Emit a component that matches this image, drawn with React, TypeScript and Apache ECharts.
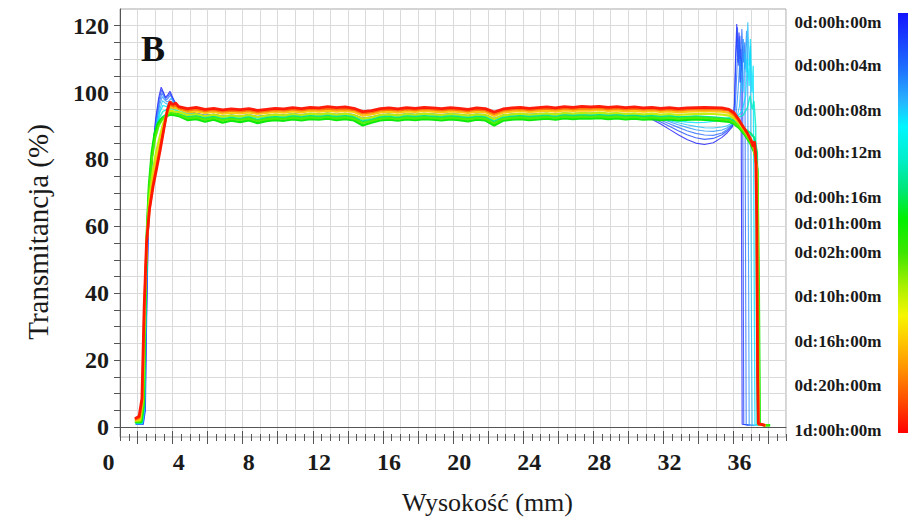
import React, { useEffect, useRef } from "react";
import * as echarts from "echarts";

// ---------- data ----------
const plateauX = [
  4, 4.5, 5, 5.5, 6, 6.5, 7, 7.5, 8, 8.5, 9, 9.5, 10, 10.5, 11, 11.5, 12, 12.5, 13, 13.5,
  14, 14.5, 15, 15.5, 16, 16.5, 17, 17.5, 18, 18.5, 19, 19.5, 20, 20.5, 21, 21.5, 22, 22.5,
  23, 23.5, 24, 24.5, 25, 25.5, 26, 26.5, 27, 27.5, 28, 28.5, 29, 29.5, 30, 30.5, 31, 31.5,
  32, 32.5, 33, 33.5, 34, 34.5, 35,
];

// t = 0d:00h:00m
const e0Left = [[1.55, 0.8], [1.98, 0.8], [2.1, 5], [2.17, 32], [2.25, 55], [2.36, 70], [2.5, 82], [2.68, 92], [2.86, 98.5], [3.0, 101.6], [3.12, 100.2], [3.24, 98.6], [3.36, 99.2], [3.5, 100.4], [3.62, 99.0], [3.76, 97.4], [3.9, 96.4]];
const e0Mid = [
  95.9, 94.5, 93.8, 93.2, 93.5, 92.9, 93.2, 93.0, 93.3, 92.8,
  93.1, 93.4, 93.2, 93.6, 93.3, 93.7, 93.5, 93.8, 93.4, 93.7,
  93.3, 92.3, 92.7, 93.3, 93.5, 93.2, 93.6, 93.4, 93.7, 93.5,
  93.3, 93.6, 93.4, 93.1, 93.5, 93.3, 92.2, 93.2, 93.5, 93.6,
  93.4, 93.6, 93.7, 93.5, 93.8, 93.6, 93.8, 93.7, 93.9, 93.6,
  93.7, 93.4, 93.2, 92.8, 92.0, 90.6, 89.0, 87.4, 86.0, 84.9,
  84.5, 85.0, 86.6,
];
const e0Right = [[35.3, 88.0], [35.6, 89.8], [35.7, 96], [35.77, 110], [35.84, 120.5], [35.9, 109], [35.97, 118], [36.03, 103], [36.08, 113], [36.12, 50], [36.15, 0.8], [36.5, 0.5]];

// t = 0d:00h:02m
const e1Left = [[1.55, 0.8], [1.96, 0.8], [2.08, 5], [2.16, 33], [2.25, 56], [2.37, 71], [2.52, 83], [2.7, 92], [2.88, 98], [3.02, 100.8], [3.14, 99.6], [3.26, 98.3], [3.38, 98.8], [3.5, 99.8], [3.63, 98.5], [3.78, 97.0], [3.9, 96.2]];
const e1Mid = [
  95.7, 94.3, 93.6, 93.1, 93.4, 92.8, 93.1, 92.9, 93.2, 92.7,
  93.0, 93.3, 93.1, 93.5, 93.2, 93.6, 93.4, 93.7, 93.3, 93.6,
  93.2, 92.2, 92.6, 93.2, 93.4, 93.1, 93.5, 93.3, 93.6, 93.4,
  93.2, 93.5, 93.3, 93.0, 93.4, 93.2, 92.1, 93.1, 93.4, 93.5,
  93.3, 93.5, 93.6, 93.4, 93.7, 93.5, 93.7, 93.6, 93.8, 93.5,
  93.6, 93.5, 93.4, 93.0, 92.3, 91.2, 89.9, 88.6, 87.4, 86.5,
  86.0, 86.3, 87.4,
];
const e1Right = [[35.3, 88.6], [35.6, 90.1], [35.72, 97], [35.8, 112], [35.88, 119.5], [35.95, 108], [36.02, 117], [36.1, 106], [36.17, 114], [36.21, 50], [36.24, 0.8], [36.6, 0.5]];

// t = 0d:00h:04m
const e2Left = [[1.55, 0.8], [1.95, 0.9], [2.07, 5], [2.15, 34], [2.24, 57], [2.36, 71], [2.52, 82], [2.72, 91], [2.9, 97.2], [3.04, 99.8], [3.16, 98.8], [3.28, 97.8], [3.4, 98.3], [3.52, 99.2], [3.66, 98.0], [3.8, 96.6], [3.92, 96.0]];
const e2Mid = [
  95.5, 94.2, 93.7, 93.2, 93.5, 92.9, 93.3, 93.0, 93.4, 92.9,
  93.2, 93.5, 93.3, 93.7, 93.4, 93.8, 93.6, 93.9, 93.5, 93.8,
  93.4, 92.4, 92.8, 93.4, 93.6, 93.3, 93.7, 93.5, 93.8, 93.6,
  93.4, 93.7, 93.5, 93.2, 93.6, 93.4, 92.3, 93.3, 93.6, 93.7,
  93.5, 93.7, 93.8, 93.6, 93.9, 93.7, 93.9, 93.8, 94.0, 93.7,
  93.8, 93.6, 93.5, 93.1, 92.6, 91.7, 90.7, 89.6, 88.6, 87.8,
  87.3, 87.2, 87.9,
];
const e2Right = [[35.3, 89.0], [35.6, 90.4], [35.75, 95], [35.86, 108], [35.95, 116], [36.04, 104], [36.13, 119], [36.22, 109], [36.3, 115], [36.35, 40], [36.38, 0.7], [36.8, 0.5]];

// t = 0d:00h:06m
const e3Left = [[1.55, 0.9], [1.94, 0.9], [2.06, 5], [2.14, 34], [2.23, 57], [2.35, 71], [2.52, 82], [2.72, 90.5], [2.92, 96.4], [3.06, 98.8], [3.2, 97.8], [3.32, 97.2], [3.45, 97.6], [3.56, 98.3], [3.7, 97.2], [3.85, 96.2]];
const e3Mid = [
  95.4, 94.0, 93.5, 93.0, 93.3, 92.8, 93.1, 92.9, 93.2, 92.7,
  93.0, 93.3, 93.1, 93.5, 93.2, 93.6, 93.4, 93.7, 93.3, 93.6,
  93.2, 92.1, 92.6, 93.2, 93.4, 93.1, 93.5, 93.3, 93.6, 93.4,
  93.2, 93.5, 93.3, 93.0, 93.4, 93.2, 92.0, 93.1, 93.4, 93.6,
  93.3, 93.5, 93.7, 93.4, 93.8, 93.6, 93.8, 93.7, 93.9, 93.6,
  93.7, 93.6, 93.5, 93.2, 92.8, 92.1, 91.3, 90.4, 89.6, 88.9,
  88.5, 88.4, 88.8,
];
const e3Right = [[35.3, 89.5], [35.6, 90.6], [35.8, 93], [35.92, 101], [36.02, 110], [36.12, 103], [36.22, 116], [36.3, 107], [36.4, 118.5], [36.46, 110], [36.52, 40], [36.55, 0.6], [36.9, 0.5]];

// t = 0d:00h:08m
const e4Left = [[1.55, 1.0], [1.93, 1.0], [2.05, 6], [2.13, 35], [2.22, 57], [2.34, 71], [2.5, 81], [2.72, 89.5], [2.94, 95.2], [3.08, 97.6], [3.22, 96.9], [3.35, 96.5], [3.48, 96.9], [3.6, 97.3], [3.75, 96.4], [3.88, 95.8]];
const e4Mid = [
  95.6, 93.8, 93.5, 93.1, 93.4, 92.9, 93.2, 93.0, 93.3, 92.8,
  93.1, 93.4, 93.2, 93.6, 93.3, 93.7, 93.5, 93.8, 93.4, 93.7,
  93.3, 92.2, 92.6, 93.3, 93.5, 93.2, 93.6, 93.4, 93.7, 93.5,
  93.3, 93.6, 93.4, 93.1, 93.5, 93.3, 92.1, 93.2, 93.5, 93.7,
  93.4, 93.6, 93.8, 93.5, 93.9, 93.7, 93.9, 93.8, 94.0, 93.7,
  93.8, 93.7, 93.6, 93.3, 92.9, 92.3, 91.6, 91.0, 90.4, 89.9,
  89.5, 89.4, 89.7,
];
const e4Right = [[35.3, 90.1], [35.6, 91.0], [35.85, 92.5], [36.0, 96], [36.1, 104], [36.2, 100], [36.3, 112], [36.38, 106], [36.47, 121], [36.55, 108], [36.62, 114], [36.68, 30], [36.72, 0.6], [37.0, 0.5]];

// t = 0d:00h:10m
const e5Left = [[1.55, 1.1], [1.92, 1.1], [2.04, 6], [2.12, 36], [2.21, 58], [2.33, 71], [2.5, 81], [2.7, 89], [2.92, 94], [3.1, 96.2], [3.3, 95.8], [3.5, 96.4], [3.7, 95.6], [3.85, 95.2]];
const e5Mid = [
  95.0, 93.5, 93.6, 93.0, 93.3, 92.8, 93.1, 92.9, 93.2, 92.7,
  93.0, 93.3, 93.1, 93.5, 93.2, 93.6, 93.4, 93.7, 93.3, 93.6,
  93.2, 92.1, 92.5, 93.2, 93.4, 93.1, 93.5, 93.3, 93.6, 93.4,
  93.2, 93.5, 93.3, 93.0, 93.4, 93.2, 92.0, 93.1, 93.4, 93.6,
  93.3, 93.5, 93.7, 93.4, 93.8, 93.6, 93.8, 93.7, 93.9, 93.6,
  93.8, 93.4, 93.5, 93.0, 92.6, 92.2, 91.8, 91.5, 91.2, 91.0,
  91.1, 91.4, 91.8,
];
const e5Right = [[35.3, 92.3], [35.6, 92.6], [35.9, 93.0], [36.15, 94.5], [36.35, 99], [36.45, 110], [36.55, 102], [36.62, 116], [36.7, 100], [36.78, 108], [36.84, 40], [36.88, 0.7], [37.2, 0.5]];

// t = 0d:00h:12m
const e6Left = [[1.55, 1.2], [1.9, 1.2], [2.03, 6], [2.11, 36], [2.2, 58], [2.33, 72], [2.5, 82], [2.68, 88.5], [2.9, 92.5], [3.1, 94.4], [3.35, 95.0], [3.6, 95.2], [3.8, 94.8]];
const e6Mid = [
  94.4, 93.2, 93.4, 92.8, 93.1, 92.6, 92.9, 92.7, 93.0, 92.5,
  92.8, 93.1, 92.9, 93.3, 93.0, 93.4, 93.2, 93.5, 93.1, 93.4,
  93.0, 91.9, 92.3, 93.0, 93.2, 92.9, 93.3, 93.1, 93.4, 93.2,
  93.0, 93.3, 93.1, 92.8, 93.2, 93.0, 91.8, 92.9, 93.2, 93.4,
  93.1, 93.3, 93.5, 93.2, 93.6, 93.4, 93.6, 93.5, 93.7, 93.4,
  93.6, 93.3, 93.5, 93.2, 93.4, 93.1, 93.2, 92.8, 92.6, 92.4,
  92.3, 92.2, 92.2,
];
const e6Right = [[35.3, 92.3], [35.6, 92.5], [35.9, 92.6], [36.2, 93.2], [36.45, 95.5], [36.6, 99], [36.72, 95], [36.82, 97.5], [36.92, 90], [36.97, 30], [37.0, 0.6], [37.3, 0.5]];

// t = 0d:00h:16m
const e7Left = [[1.5, 1.4], [1.88, 1.4], [2.02, 7], [2.1, 36], [2.19, 58], [2.32, 72], [2.48, 82], [2.65, 88], [2.85, 91.2], [3.05, 92.6], [3.3, 93.5], [3.55, 94.0], [3.8, 93.8]];
const e7Mid = [
  93.6, 92.7, 93.0, 92.3, 92.8, 92.1, 92.5, 92.2, 92.6, 91.9,
  92.4, 92.7, 92.5, 92.9, 92.6, 93.0, 92.8, 93.1, 92.7, 93.0,
  92.6, 91.4, 91.9, 92.6, 92.8, 92.5, 92.9, 92.7, 93.0, 92.8,
  92.6, 92.9, 92.7, 92.4, 92.8, 92.6, 91.3, 92.5, 92.8, 93.0,
  92.7, 92.9, 93.1, 92.8, 93.2, 93.0, 93.2, 93.1, 93.3, 93.0,
  93.2, 92.9, 93.1, 92.8, 93.0, 92.7, 92.9, 92.6, 92.8, 92.9,
  92.8, 92.6, 92.4,
];
const e7Right = [[35.4, 92.2], [35.7, 91.5], [36.0, 90.4], [36.3, 89.2], [36.6, 88], [36.85, 86.5], [37.0, 82], [37.06, 40], [37.1, 0.7], [37.5, 0.5]];

// t = 0d:01h:00m
const g1Left = [[1.5, 1.5], [1.86, 1.5], [2.0, 7], [2.09, 36], [2.18, 58], [2.3, 72], [2.46, 82], [2.62, 87.6], [2.8, 90.6], [3.0, 92.0], [3.25, 92.8], [3.5, 93.4], [3.75, 93.3]];
const g1Mid = [
  93.0, 91.8, 92.1, 91.3, 91.9, 91.0, 91.6, 91.2, 91.7, 90.9,
  91.5, 91.8, 91.6, 92.0, 91.7, 92.1, 91.9, 92.2, 91.8, 92.1,
  91.7, 90.2, 91.0, 91.7, 91.9, 91.6, 92.0, 91.8, 92.1, 91.9,
  91.7, 92.0, 91.8, 91.4, 91.9, 91.7, 90.2, 91.6, 91.9, 92.1,
  91.8, 92.0, 92.2, 91.9, 92.3, 92.1, 92.3, 92.2, 92.4, 92.1,
  92.3, 92.0, 92.2, 91.9, 92.1, 91.8, 92.0, 91.7, 91.9, 92.0,
  91.9, 91.7, 91.5,
];
const g1Right = [[35.4, 91.3], [35.7, 90.6], [36.0, 89.3], [36.3, 87.4], [36.6, 85], [36.85, 82], [37.02, 77], [37.1, 40], [37.15, 1], [37.4, 0.5], [37.75, 0.5]];

// t = 0d:02h:00m
const g2Left = [[1.5, 1.6], [1.84, 1.7], [1.98, 7], [2.08, 36], [2.18, 57], [2.31, 71], [2.48, 80.5], [2.66, 86.5], [2.86, 90.2], [3.06, 92.0], [3.3, 93.2], [3.55, 93.9], [3.8, 93.6]];
const g2Mid = [
  93.4, 92.3, 92.6, 91.9, 92.4, 91.7, 92.1, 91.8, 92.2, 91.5,
  92.0, 92.3, 92.1, 92.5, 92.2, 92.6, 92.4, 92.7, 92.3, 92.6,
  92.2, 90.9, 91.5, 92.2, 92.4, 92.1, 92.5, 92.3, 92.6, 92.4,
  92.2, 92.5, 92.3, 92.0, 92.4, 92.2, 90.8, 92.1, 92.4, 92.6,
  92.3, 92.5, 92.7, 92.4, 92.8, 92.6, 92.8, 92.7, 92.9, 92.6,
  92.8, 92.5, 92.7, 92.4, 92.6, 92.3, 92.5, 92.2, 92.4, 92.5,
  92.4, 92.2, 92.0,
];
const g2Right = [[35.4, 91.8], [35.7, 91.0], [36.0, 89.7], [36.3, 87.8], [36.6, 85.4], [36.85, 82.5], [37.02, 76], [37.08, 40], [37.13, 1], [37.4, 0.5], [37.7, 0.5]];

// t = 0d:10h:00m
const y1Left = [[1.5, 1.8], [1.8, 2.0], [1.95, 8], [2.06, 36], [2.17, 56], [2.32, 68], [2.5, 76], [2.7, 82], [2.9, 86.5], [3.1, 90.5], [3.3, 93.4], [3.5, 94.6], [3.75, 94.3]];
const y1Mid = [
  94.2, 93.3, 93.6, 93.0, 93.4, 92.8, 93.2, 92.9, 93.3, 92.7,
  93.1, 93.4, 93.2, 93.6, 93.3, 93.7, 93.5, 93.8, 93.4, 93.7,
  93.3, 92.2, 92.6, 93.3, 93.5, 93.2, 93.6, 93.4, 93.7, 93.5,
  93.3, 93.6, 93.4, 93.1, 93.5, 93.3, 92.1, 93.2, 93.5, 93.7,
  93.4, 93.6, 93.8, 93.5, 93.9, 93.7, 93.9, 93.8, 94.0, 93.7,
  93.9, 93.6, 93.8, 93.5, 93.7, 93.4, 93.6, 93.3, 93.5, 93.6,
  93.7, 93.6, 93.4,
];
const y1Right = [[35.4, 93.1], [35.7, 92.2], [36.0, 90.6], [36.3, 88.5], [36.6, 86], [36.85, 83], [37.0, 76], [37.06, 30], [37.1, 0.9], [37.5, 0.5]];

// t = 0d:16h:00m
const y2Left = [[1.5, 2.0], [1.78, 2.4], [1.93, 8], [2.05, 36], [2.17, 55], [2.33, 66], [2.52, 73.5], [2.72, 79.5], [2.92, 84.5], [3.12, 89.5], [3.32, 93.8], [3.5, 95.8], [3.7, 95.3], [3.85, 95.4]];
const y2Mid = [
  95.0, 94.1, 94.4, 93.9, 94.2, 93.7, 94.0, 93.8, 94.1, 93.6,
  93.9, 94.2, 94.0, 94.4, 94.1, 94.5, 94.3, 94.6, 94.3, 94.5,
  94.2, 93.1, 93.5, 94.1, 94.3, 94.0, 94.4, 94.2, 94.5, 94.3,
  94.1, 94.4, 94.2, 93.9, 94.3, 94.1, 93.0, 94.0, 94.3, 94.5,
  94.2, 94.4, 94.6, 94.3, 94.7, 94.5, 94.7, 94.6, 94.8, 94.5,
  94.7, 94.4, 94.6, 94.3, 94.5, 94.2, 94.4, 94.1, 94.3, 94.4,
  94.5, 94.4, 94.3,
];
const y2Right = [[35.4, 93.9], [35.7, 92.8], [36.0, 91.0], [36.3, 88.8], [36.6, 86.3], [36.83, 83.6], [36.98, 77], [37.04, 25], [37.08, 0.8], [37.5, 0.5]];

// t = 0d:20h:00m
const o1Left = [[1.5, 2.2], [1.76, 2.8], [1.92, 8], [2.04, 36], [2.17, 55], [2.33, 65], [2.53, 72.5], [2.74, 78], [2.94, 83.5], [3.14, 89], [3.34, 94.2], [3.5, 96.6], [3.68, 95.9], [3.85, 96.1]];
const o1Mid = [
  95.4, 94.7, 95.0, 94.5, 94.8, 94.3, 94.6, 94.4, 94.7, 94.2,
  94.5, 94.8, 94.6, 95.0, 94.7, 95.1, 94.9, 95.2, 94.9, 95.1,
  94.8, 93.8, 94.1, 94.7, 94.9, 94.6, 95.0, 94.8, 95.1, 94.9,
  94.7, 95.0, 94.8, 94.5, 94.9, 94.7, 93.6, 94.6, 94.9, 95.1,
  94.8, 95.0, 95.2, 94.9, 95.3, 95.1, 95.3, 95.2, 95.4, 95.1,
  95.3, 95.0, 95.2, 94.9, 95.1, 94.8, 95.0, 94.7, 94.9, 95.0,
  95.1, 95.0, 94.9,
];
const o1Right = [[35.4, 94.6], [35.7, 93.3], [36.0, 91.3], [36.3, 89.1], [36.6, 86.6], [36.82, 84.3], [36.96, 79], [37.02, 25], [37.07, 0.8], [37.5, 0.5]];

// t = 1d:00h:00m
const r1Left = [[1.5, 2.5], [1.74, 3.2], [1.9, 8.5], [2.03, 36], [2.16, 55], [2.33, 65], [2.54, 72], [2.75, 77.5], [2.95, 83], [3.15, 89], [3.35, 94.8], [3.5, 97.3], [3.66, 96.4], [3.82, 96.9]];
const r1Mid = [
  95.8, 95.2, 95.6, 95.0, 95.3, 94.8, 95.1, 94.9, 95.2, 94.7,
  95.0, 95.3, 95.1, 95.5, 95.2, 95.6, 95.4, 95.8, 95.5, 95.7,
  95.3, 94.3, 94.6, 95.2, 95.4, 95.1, 95.5, 95.3, 95.6, 95.4,
  95.2, 95.5, 95.3, 95.0, 95.4, 95.2, 94.2, 95.1, 95.4, 95.6,
  95.3, 95.5, 95.7, 95.4, 95.8, 95.6, 95.9, 95.7, 95.9, 95.6,
  95.8, 95.5, 95.7, 95.4, 95.6, 95.3, 95.5, 95.2, 95.4, 95.5,
  95.6, 95.5, 95.4,
];
const r1Right = [[35.4, 95.0], [35.7, 93.9], [35.95, 92.0], [36.2, 89.8], [36.45, 87.8], [36.65, 85.6], [36.78, 83.8], [36.85, 85.4], [36.92, 81.5], [36.99, 60], [37.03, 15], [37.07, 1.0], [37.45, 0.5]];

const curveTimes = [
  "0d:00h:00m", "0d:00h:02m", "0d:00h:04m", "0d:00h:06m", "0d:00h:08m", "0d:00h:10m", "0d:00h:12m",
  "0d:00h:16m", "0d:01h:00m", "0d:02h:00m", "0d:10h:00m", "0d:16h:00m", "0d:20h:00m", "1d:00h:00m",
];
const curveParts = [
  [e0Left, e0Mid, e0Right], [e1Left, e1Mid, e1Right], [e2Left, e2Mid, e2Right], [e3Left, e3Mid, e3Right],
  [e4Left, e4Mid, e4Right], [e5Left, e5Mid, e5Right], [e6Left, e6Mid, e6Right], [e7Left, e7Mid, e7Right],
  [g1Left, g1Mid, g1Right], [g2Left, g2Mid, g2Right], [y1Left, y1Mid, y1Right], [y2Left, y2Mid, y2Right],
  [o1Left, o1Mid, o1Right], [r1Left, r1Mid, r1Right],
];
const curveColors = [
  "#1a1aff", "#1e46ff", "#2a6cff", "#2894ff", "#1ebeff", "#00e4ff", "#00eec4",
  "#00e67a", "#00ea00", "#4cee00", "#c4ee00", "#ffc400", "#ff7000", "#ff1200",
];
const curveWidths = [1.1, 1.1, 1.1, 1.1, 1.1, 1.3, 1.5, 2, 2.4, 2.2, 2.2, 2.2, 2.4, 2.8];

const xLabels = [4, 8, 12, 16, 20, 24, 28, 32, 36];
const yLabels = [0, 20, 40, 60, 80, 100, 120];
const legendLabels = [
  "0d:00h:00m", "0d:00h:04m", "0d:00h:08m", "0d:00h:12m", "0d:00h:16m", "0d:01h:00m",
  "0d:02h:00m", "0d:10h:00m", "0d:16h:00m", "0d:20h:00m", "1d:00h:00m",
];
const legendFractions = [0.023, 0.124, 0.231, 0.333, 0.44, 0.502, 0.571, 0.676, 0.781, 0.888, 0.993];

// ---------- layout ----------
const GRID_LEFT = 120;
const GRID_TOP = 9;
const GRID_RIGHT = 126;
const GRID_BOTTOM = 85;
const W = 912;
const H = 522;
const X_MIN = 0.65;
const X_MAX = 38.65;
const Y_MIN = -3;
const Y_MAX = 125;
const SERIF = "'Liberation Serif', 'DejaVu Serif', 'Times New Roman', serif";
const LABEL_SIZE = 24;
const X_LABEL_MARGIN = 13;

function range(a: number, b: number, step: number) {
  const out: number[] = [];
  for (let v = a; v <= b + 1e-9; v += step) out.push(Math.round(v * 1000) / 1000);
  return out;
}

export default function App() {
  const ref = useRef<HTMLDivElement>(null);

  useEffect(() => {
    const chart = echarts.init(ref.current!, null, { renderer: "svg" });

    const series = curveParts.map((parts, idx) => {
      const [left, mid, right] = parts as [number[][], number[], number[][]];
      const data = [
        ...left,
        ...plateauX.map((x, i) => [x, mid[i]]),
        ...right,
      ];
      return {
        name: curveTimes[idx],
        type: "line",
        data,
        showSymbol: false,
        symbol: "none",
        silent: true,
        clip: true,
        xAxisIndex: 0,
        yAxisIndex: 0,
        lineStyle: {
          color: curveColors[idx],
          width: curveWidths[idx],
          opacity: idx < 7 ? 0.8 : 0.95,
        },
        z: 2 + idx,
      };
    });

    const plotW = W - GRID_LEFT - GRID_RIGHT;
    const pxPerMm = plotW / (X_MAX - X_MIN);
    const plotBottom = H - GRID_BOTTOM;

    const majorTicks = range(1.65, X_MAX, 2);
    const minorTicks = range(X_MIN, X_MAX, 0.5);
    const yTicks = range(0, 120, 5);

    const baseX = {
      type: "value",
      min: X_MIN,
      max: X_MAX,
      position: "bottom",
      axisLine: { show: false },
      splitLine: { show: false },
      axisLabel: { show: false },
    };

    const labelStyle = {
      fontFamily: SERIF,
      fontSize: LABEL_SIZE,
      fontWeight: "bold",
      color: "#1a1a1a",
    };

    const barTop = 13;
    const barH = 420;

    const graphic: any[] = [
      {
        type: "text",
        x: 153,
        y: 49,
        z: 100,
        style: {
          text: "B",
          fontFamily: SERIF,
          fontSize: 36,
          fontWeight: "bold",
          fill: "#111",
          align: "center",
          verticalAlign: "middle",
        },
      },
      {
        type: "text",
        x: GRID_LEFT + (0 - X_MIN) * pxPerMm,
        y: plotBottom + X_LABEL_MARGIN,
        style: {
          text: "0",
          fontFamily: SERIF,
          fontSize: LABEL_SIZE,
          fontWeight: "bold",
          fill: "#1a1a1a",
          align: "center",
          verticalAlign: "top",
        },
      },
      {
        type: "rect",
        shape: { x: 898, y: barTop, width: 10, height: barH },
        style: {
          fill: {
            type: "linear",
            x: 0,
            y: 0,
            x2: 0,
            y2: 1,
            colorStops: [
              { offset: 0, color: "#1414ff" },
              { offset: 0.13, color: "#1e6eff" },
              { offset: 0.21, color: "#28b4ff" },
              { offset: 0.27, color: "#00f6ff" },
              { offset: 0.35, color: "#00eec8" },
              { offset: 0.42, color: "#00e678" },
              { offset: 0.49, color: "#00f000" },
              { offset: 0.57, color: "#3ce600" },
              { offset: 0.65, color: "#a8f000" },
              { offset: 0.72, color: "#f6f600" },
              { offset: 0.78, color: "#ffc800" },
              { offset: 0.85, color: "#ff9000" },
              { offset: 0.92, color: "#ff5000" },
              { offset: 1, color: "#ff0000" },
            ],
          },
        },
      },
      ...legendLabels.map((t, i) => ({
        type: "text",
        x: 838,
        y: barTop + legendFractions[i] * barH,
        style: {
          text: t,
          fontFamily: SERIF,
          fontSize: 17,
          fontWeight: "bold",
          fill: "#1a1a1a",
          align: "center",
          verticalAlign: "middle",
        },
      })),
    ];

    const option: any = {
      animation: false,
      backgroundColor: "#ffffff",
      grid: {
        left: GRID_LEFT,
        top: GRID_TOP,
        right: GRID_RIGHT,
        bottom: GRID_BOTTOM,
        show: true,
        borderColor: "#a8a8a8",
        borderWidth: 1,
        backgroundColor: "transparent",
        containLabel: false,
        outerBoundsMode: "none",
      },
      xAxis: [
        {
          type: "value",
          min: X_MIN,
          max: X_MAX,
          interval: 1,
          position: "bottom",
          axisLine: { show: true, lineStyle: { color: "#555", width: 1 } },
          axisTick: { show: false },
          axisLabel: { show: false },
          splitLine: { show: true, lineStyle: { color: "#dadada", width: 1 } },
          name: "Wysokość (mm)",
          nameLocation: "middle",
          nameGap: 52,
          nameMoveOverlap: false,
          nameTextStyle: {
            fontFamily: SERIF,
            fontSize: 26,
            color: "#1a1a1a",
            padding: [0, 0, 0, 69],
          },
        },
        {
          ...baseX,
          axisTick: {
            show: true,
            customValues: majorTicks,
            length: 7,
            inside: false,
            lineStyle: { color: "#555", width: 1 },
          },
          axisLabel: {
            show: true,
            customValues: xLabels,
            margin: X_LABEL_MARGIN,
            ...labelStyle,
          },
        },
        {
          ...baseX,
          axisTick: {
            show: true,
            customValues: majorTicks,
            length: 6,
            inside: true,
            lineStyle: { color: "#555", width: 1 },
          },
        },
        {
          ...baseX,
          axisTick: {
            show: true,
            customValues: minorTicks,
            length: 4,
            inside: false,
            lineStyle: { color: "#555", width: 1 },
          },
        },
        {
          ...baseX,
          axisTick: {
            show: true,
            customValues: minorTicks,
            length: 3,
            inside: true,
            lineStyle: { color: "#555", width: 1 },
          },
        },
      ],
      yAxis: {
        type: "value",
        min: Y_MIN,
        max: Y_MAX,
        axisLine: { show: true, lineStyle: { color: "#555", width: 1 } },
        axisTick: {
          show: true,
          customValues: yTicks,
          length: 6,
          lineStyle: { color: "#555", width: 1 },
        },
        axisLabel: {
          show: true,
          customValues: yLabels,
          margin: 11,
          ...labelStyle,
        },
        splitLine: { show: true, lineStyle: { color: "#dadada", width: 1 } },
        name: "Transmitancja (%)",
        nameLocation: "middle",
        nameGap: 68,
        nameRotate: 90,
        nameMoveOverlap: false,
        nameTextStyle: {
          fontFamily: SERIF,
          fontSize: 29,
          color: "#1a1a1a",
          padding: [0, 18, 0, 0],
        },
      },
      graphic,
      series,
    };

    chart.setOption(option);
    return () => chart.dispose();
  }, []);

  return (
    <div
      ref={ref}
      style={{ position: "fixed", left: 0, top: 0, width: W, height: H, background: "#fff" }}
    />
  );
}
